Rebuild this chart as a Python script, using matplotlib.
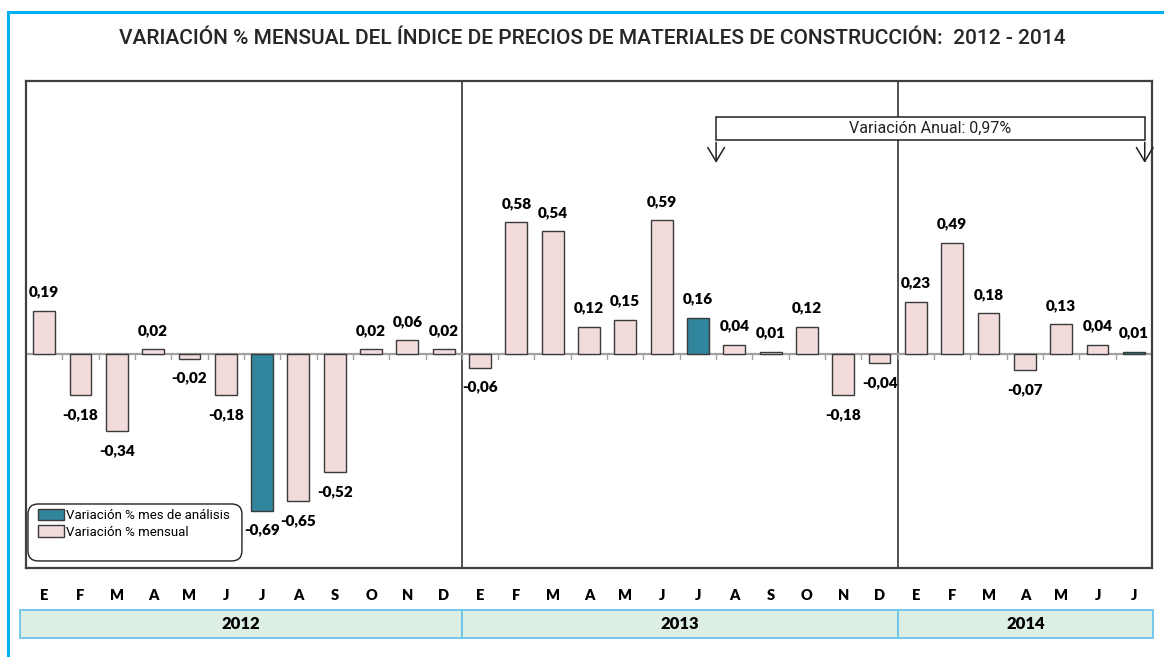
import matplotlib
matplotlib.use("Agg")
import matplotlib.pyplot as plt
import matplotlib.transforms as mtransforms
from matplotlib.patches import Patch, Rectangle, FancyBboxPatch

# ── Data ─────────────────────────────────────────────────────────
MONTHS  = ["E", "F", "M", "A", "M", "J", "J", "A", "S", "O", "N", "D"]
YEARS   = ["2012", "2013", "2014"]
v2012   = [0.19, -0.18, -0.34, 0.02, -0.02, -0.18, -0.69, -0.65, -0.52, 0.02, 0.06, 0.02]
v2013   = [-0.06, 0.58, 0.54, 0.12, 0.15, 0.59, 0.16, 0.04, 0.01, 0.12, -0.18, -0.04]
v2014   = [0.23, 0.49, 0.18, -0.07, 0.13, 0.04, 0.01]
HIGHLIGHT_MONTH = 6   # julio = mes de análisis

values = v2012 + v2013 + v2014
months = MONTHS * 2 + MONTHS[:len(v2014)]
n = len(values)
x = list(range(n))
highlight = [(i % 12) == HIGHLIGHT_MONTH for i in x]

# ── Styles ───────────────────────────────────────────────────────
PINK   = "#F2DCDB"
TEAL   = "#31859C"
EDGE   = "#3A3A3A"
BLUE   = "#00B0F0"
BAND   = "#DDEEE5"
BANDE  = "#6CC5EC"
NARROW = "Roboto"
BOLD   = "Lato"

fig = plt.figure(figsize=(11.64, 6.57), dpi=100)
ax = fig.add_axes([0.0223, 0.1355, 0.9674, 0.7412])

colors = [TEAL if h else PINK for h in highlight]
ax.bar(x, values, width=0.6, color=colors, edgecolor=EDGE, linewidth=1, zorder=3)

ax.set_xlim(-0.5, n - 0.5)
ax.set_ylim(-0.943, 1.203)
ax.set_yticks([])

# zero line + small ticks at slot boundaries
ax.axhline(0, color="#A0A0A0", lw=1.6, zorder=2)
for b in range(1, n):
    ax.plot([b - 0.5, b - 0.5], [0, -0.022], color="#A0A0A0", lw=1, zorder=2)

# year separators
for s in [11.5, 23.5]:
    ax.axvline(s, color="#222222", lw=1.1, zorder=1)

for sp in ax.spines.values():
    sp.set_color("#404040")
    sp.set_linewidth(1.6)

# value labels (offsets in points)
lab = dict(ha="center", va="center", fontsize=11, fontweight="heavy", family=BOLD,
           textcoords="offset points")
for i, v in enumerate(values):
    txt = f"{v:.2f}".replace(".", ",")
    off = (0, 13.5) if v >= 0 else (0, -14)
    ax.annotate(txt, (i, v), xytext=off, **lab)

# month letters
ax.set_xticks(x)
ax.set_xticklabels(months, fontsize=10.5, fontweight="heavy", family=BOLD)
ax.tick_params(axis="x", length=0, pad=15)

# year bands below the chart
trans = mtransforms.blended_transform_factory(ax.transData, fig.transFigure)
bands = [(-0.66, 11.5), (11.5, 23.5), (23.5, n - 0.47)]
for (x0, x1), yr in zip(bands, YEARS):
    ax.add_patch(Rectangle((x0, 0.0289), x1 - x0, 0.0426, transform=trans,
                           facecolor=BAND, edgecolor=BANDE, lw=1.3, clip_on=False))
    ax.text((x0 + x1) / 2, 0.050, yr, transform=trans, ha="center", va="center",
            fontsize=12, fontweight="heavy", family=BOLD)

# annual variation bracket
ax.add_patch(Rectangle((18.5, 0.943), 30.3 - 18.5, 0.101, facecolor="white",
                       edgecolor="#222222", lw=1.1, zorder=4))
ax.text(24.4, 0.993, "Variación Anual: 0,97%", ha="center", va="center",
        fontsize=11.5, family=NARROW, zorder=5, color="#222222")
for xa in [18.5, 30.3]:
    ax.annotate("", xy=(xa, 0.83), xytext=(xa, 0.945),
                arrowprops=dict(arrowstyle="->,head_length=0.5,head_width=0.3",
                                color="#222222", lw=1.1, mutation_scale=20), zorder=5)

# legend: rounded frame drawn separately, entries without frame
ax.add_patch(FancyBboxPatch((0.0018, 0.0144), 0.19, 0.117,
                            boxstyle="round,pad=0,rounding_size=0.009",
                            mutation_aspect=2.31, transform=ax.transAxes,
                            facecolor="white", edgecolor="#222222", lw=1.0, zorder=6))
handles = [Patch(facecolor=TEAL, edgecolor=EDGE, label="Variación % mes de análisis"),
           Patch(facecolor=PINK, edgecolor=EDGE, label="Variación % mensual")]
leg = ax.legend(handles=handles, loc="upper left", bbox_to_anchor=(0.0105, 0.122),
                borderaxespad=0, borderpad=0, frameon=False,
                prop={"family": NARROW, "size": 9.5},
                handlelength=2.0, handleheight=1.0, handletextpad=0.15,
                labelspacing=0.25)
leg.set_zorder(7)

# title
fig.text(0.509, 0.942,
         "VARIACIÓN % MENSUAL DEL ÍNDICE DE PRECIOS DE MATERIALES DE CONSTRUCCIÓN:  2012 - 2014",
         ha="center", va="center", fontsize=15, fontweight="medium", family=NARROW,
         color="#262626")

# outer light-blue frame
fig.add_artist(plt.Line2D([0.0069, 0.0069], [0.0, 0.982], color=BLUE, lw=2.2,
                          transform=fig.transFigure))
fig.add_artist(plt.Line2D([0.0069, 1.0], [0.982, 0.982], color=BLUE, lw=2.2,
                          transform=fig.transFigure))

fig.savefig("out.png", dpi=100)
